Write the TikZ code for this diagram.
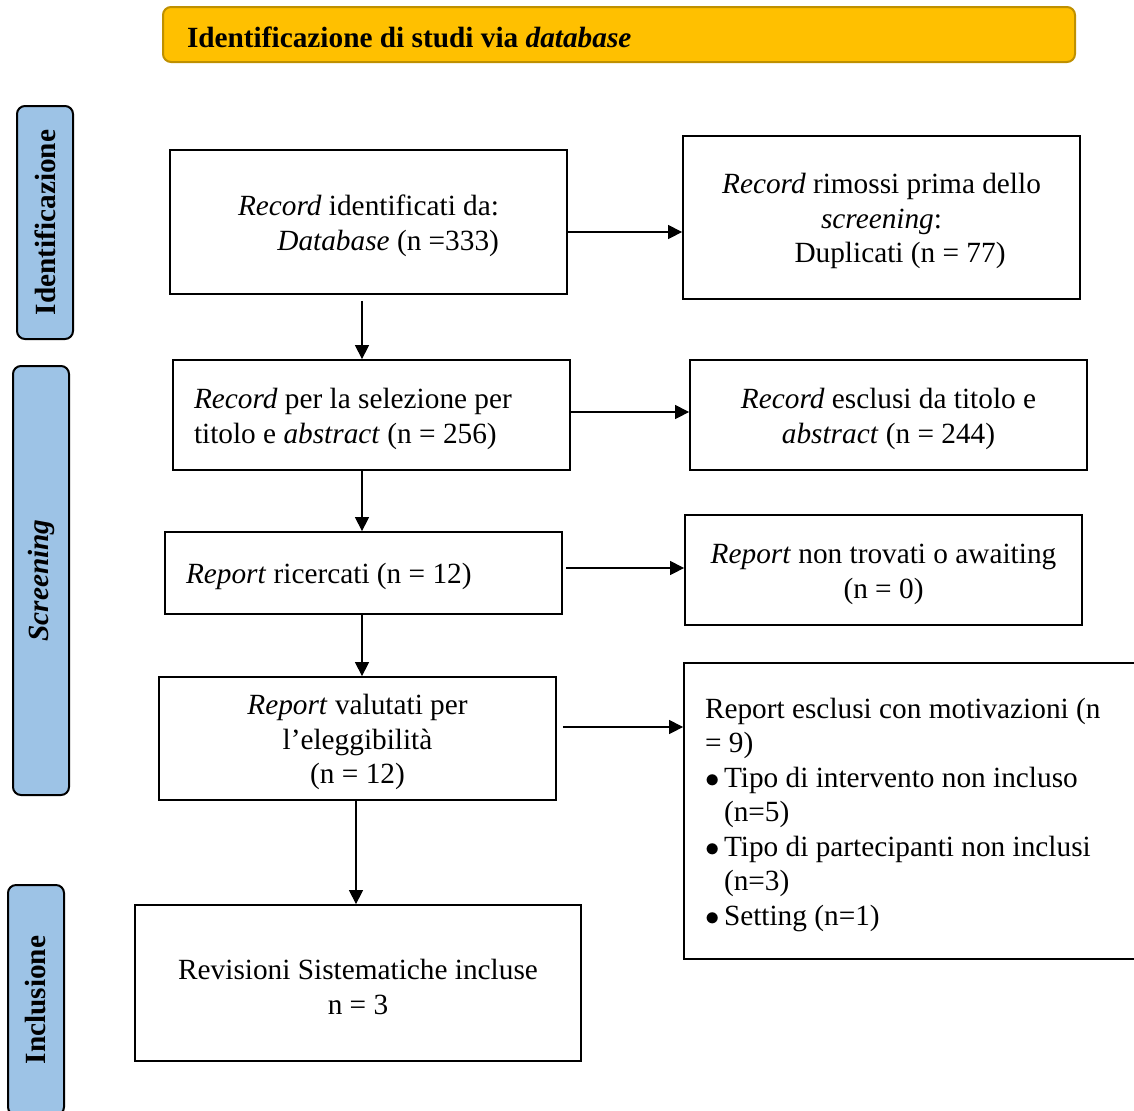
\documentclass[tikz,border=0pt]{standalone}
\usepackage{fontspec}
\setmainfont{Liberation Serif}
\usepackage{tikz}
\usetikzlibrary{arrows.meta}
\definecolor{barBlue}{HTML}{9DC3E6}
\definecolor{headGold}{HTML}{FFC000}
\definecolor{headEdge}{HTML}{BF9000}
\newcommand{\flowSize}{\fontsize{14.65}{17.25}\selectfont}
\newcommand{\topStrut}{\rule{0pt}{14pt}}
\newcommand{\itemMark}{\makebox[9.5pt][l]{$\bullet$}}
\newcommand{\itemSkip}{\hspace*{9.5pt}}
\tikzstyle{stepBox} = [draw, rectangle, line width=0.9pt, inner sep=0pt,
   align=center, minimum width=198.5pt]
\tikzstyle{leftBox} = [stepBox, align=flush left, text width=177.5pt]
\tikzstyle{phaseBar} = [draw, rectangle, rounded corners=4pt, line width=1pt,
   fill=barBlue, rotate=90, inner sep=0pt, minimum height=28pt,
   font=\flowSize\bfseries]
\tikzstyle{titleBar} = [draw=headEdge, fill=headGold, rounded corners=4pt,
   line width=1pt, inner xsep=12pt, inner ysep=0pt, minimum width=456pt,
   minimum height=27.5pt, text width=432pt, align=flush left, text height=13pt]
\tikzstyle{flowArrow} = [line width=0.6pt, -{Triangle[length=7pt,width=7pt]}]

\begin{document}
\begin{tikzpicture}[x=0.5pt, y=-0.5pt, font=\flowSize]
	\useasboundingbox (0,0) rectangle (1134,1110);
	\clip (0,0) rectangle (1134,1110);

	% header and phase bars
	\node[titleBar] (head) at (619,34.5) {\textbf{Identificazione di studi via \textit{database}}};
	\node[phaseBar, minimum width=116.5pt] (pid) at (45,222.5) {Identificazione};
	\node[phaseBar, minimum width=214.5pt] (psc) at (41,580.5) {\textit{Screening}};
	\node[phaseBar, minimum width=115pt] (pin) at (36,1000) {Inclusione};

	% left column
	\node[stepBox, minimum height=72pt, align=right] (idf) at (368.5,222)
		{\topStrut\textit{Record} identificati da:\\ \textit{Database} (n =333)};
	\node[leftBox, minimum height=55pt] (sel) at (371.5,415)
		{\topStrut\textit{Record} per la selezione per\\ titolo e \textit{abstract} (n = 256)};
	\node[leftBox, minimum height=41pt] (src) at (363.5,573)
		{\topStrut\textit{Report} ricercati (n = 12)};
	\node[stepBox, minimum height=61.5pt] (val) at (357.5,738.5)
		{\topStrut\textit{Report} valutati per\\ l’eleggibilità\\ (n = 12)};
	\node[stepBox, minimum width=223pt, minimum height=78pt] (inc) at (358,983)
		{\topStrut Revisioni Sistematiche incluse\\ n = 3};

	% right column
	\node[stepBox, minimum height=81.5pt] (rem) at (881.5,217.5)
		{\topStrut\textit{Record} rimossi prima dello\\ \textit{screening}:\\ \hspace*{18.5pt}Duplicati (n = 77)};
	\node[stepBox, minimum height=55pt] (exc) at (888.5,415)
		{\topStrut\textit{Record} esclusi da titolo e\\ \textit{abstract} (n = 244)};
	\node[stepBox, minimum height=55pt] (nft) at (883.5,570)
		{\topStrut\textit{Report} non trovati o awaiting\\ (n = 0)};
	\node[stepBox, align=flush left, minimum width=230.5pt, text width=209.5pt, minimum height=148pt] (why) at (914.5,811)
		{\topStrut Report esclusi con motivazioni (n\\ = 9)\\
		\itemMark Tipo di intervento non incluso\\ \itemSkip(n=5)\\
		\itemMark Tipo di partecipanti non inclusi\\ \itemSkip(n=3)\\
		\itemMark Setting (n=1)};

	% arrows down
	\draw[flowArrow] ([xshift=-3.25pt,yshift=-3pt]idf.south) -- ([xshift=-4.75pt]sel.north);
	\draw[flowArrow] ([xshift=-4.75pt]sel.south) -- ([xshift=-0.75pt]src.north);
	\draw[flowArrow] ([xshift=-0.75pt]src.south) -- ([xshift=2.25pt]val.north);
	\draw[flowArrow] ([xshift=-0.75pt]val.south) -- ([xshift=-1pt]inc.north);

	% arrows right
	\draw[flowArrow] ([yshift=-5pt]idf.east) -- ([yshift=-7.25pt]rem.west);
	\draw[flowArrow] ([yshift=1.5pt]sel.east) -- ([yshift=1.5pt]exc.west);
	\draw[flowArrow] ([xshift=1.5pt,yshift=2.5pt]src.east) -- ([yshift=1pt]nft.west);
	\draw[flowArrow] ([xshift=3pt,yshift=5.75pt]val.east) -- ([yshift=42pt]why.west);
\end{tikzpicture}
\end{document}
